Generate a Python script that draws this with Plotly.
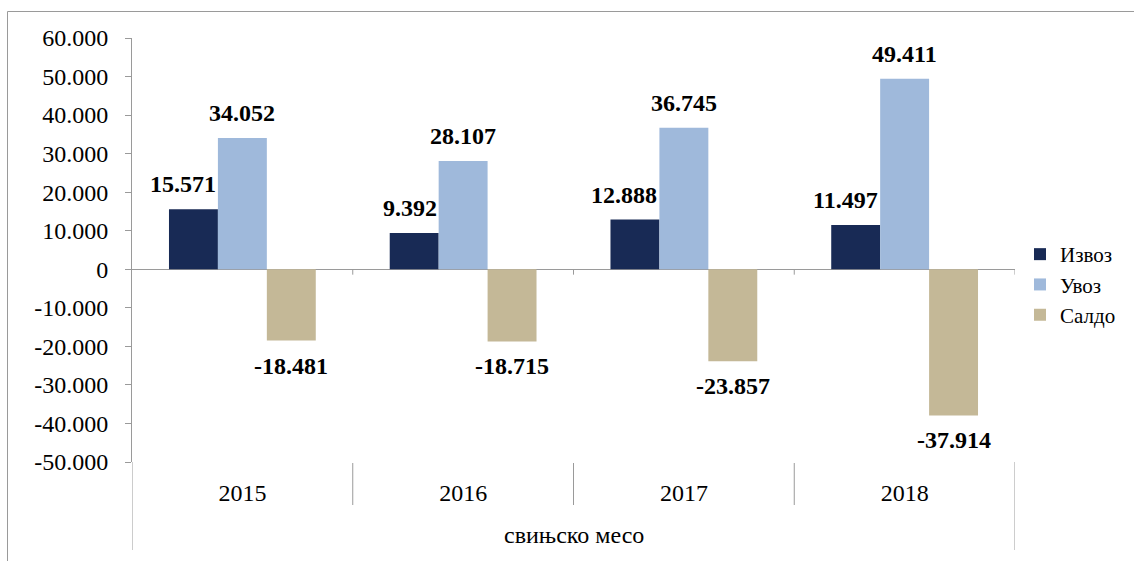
import plotly.graph_objects as go

years = ["2015", "2016", "2017", "2018"]
izvoz = [15571, 9392, 12888, 11497]
uvoz = [34052, 28107, 36745, 49411]
saldo = [-18481, -18715, -23857, -37914]
series_names = ["Извоз", "Увоз", "Салдо"]
group_label = "свињско месо"
y_tickvals = [60000, 50000, 40000, 30000, 20000, 10000, 0, -10000, -20000, -30000, -40000, -50000]
y_ticktext = ["60.000", "50.000", "40.000", "30.000", "20.000", "10.000", "0",
              "-10.000", "-20.000", "-30.000", "-40.000", "-50.000"]

colors = ["#182a55", "#9fb9db", "#c4b897"]
GRAY = "#9a9a9a"
FONT = "Liberation Serif"

W, H = 1134, 561
L, R, T, B = 132, 1134 - 1015, 38, 561 - 462
plot_w = W - L - R
plot_h = H - T - B

def px_x(p):
    return (p - L) / plot_w

def px_y(p):
    return (H - B - p) / plot_h

def fmt(v):
    s = f"{abs(v):,}".replace(",", ".")
    return ("-" if v < 0 else "") + s

bargap = 0.335
bw = (1 - bargap) / 3

fig = go.Figure()
for name, vals, c in zip(series_names, [izvoz, uvoz, saldo], colors):
    fig.add_trace(go.Bar(x=years, y=vals, name=name, marker=dict(color=c, line=dict(width=0))))

annotations = []
offsets = [-bw, 0, bw]
for k, vals in enumerate([izvoz, uvoz, saldo]):
    for i, v in enumerate(vals):
        xc = i + offsets[k]
        if k == 0:
            xa, xpos = "right", xc + bw / 2
        else:
            xa, xpos = "center", xc
        annotations.append(dict(
            x=xpos, y=v, xref="x", yref="y", text=f"<b>{fmt(v)}</b>", showarrow=False,
            xanchor=xa, yanchor="bottom" if v >= 0 else "top",
            yshift=10 if v >= 0 else -10,
            font=dict(family=FONT, size=24, color="black"),
        ))

annotations.append(dict(
    x=0.5, y=px_y(535), xref="paper", yref="paper", text=group_label, showarrow=False,
    xanchor="center", yanchor="middle", font=dict(family=FONT, size=24, color="black"),
))

shapes = []
shapes.append(dict(type="rect", xref="paper", yref="paper",
                   x0=px_x(7.5), x1=px_x(1200), y0=px_y(620), y1=px_y(11.5),
                   line=dict(color=GRAY, width=1), layer="below"))
for b in [0.5, 1.5, 2.5]:
    shapes.append(dict(type="line", xref="x", yref="paper", x0=b, x1=b,
                       y0=px_y(463), y1=px_y(505), line=dict(color=GRAY, width=1)))
for b in [-0.5, 3.5]:
    shapes.append(dict(type="line", xref="x", yref="paper", x0=b, x1=b,
                       y0=px_y(462), y1=px_y(550), line=dict(color=GRAY, width=1)))
for b in [0.5, 1.5, 2.5, 3.5]:
    shapes.append(dict(type="line", xref="x", yref="y", x0=b, x1=b,
                       y0=0, y1=-1400, line=dict(color=GRAY, width=1)))

fig.update_layout(
    width=W, height=H,
    margin=dict(l=L, r=R, t=T, b=B, pad=0),
    paper_bgcolor="white", plot_bgcolor="white",
    barmode="group", bargap=bargap, bargroupgap=0,
    font=dict(family=FONT, size=24, color="black"),
    showlegend=True,
    legend=dict(x=px_x(1020), y=px_y(234), xanchor="left", yanchor="top",
                font=dict(family=FONT, size=21, color="black"),
                bgcolor="rgba(0,0,0,0)", borderwidth=0, traceorder="normal"),
    annotations=annotations,
    shapes=shapes,
)
fig.update_xaxes(
    type="category", range=[-0.5, 3.5], showgrid=False, showline=False, zeroline=False,
    ticks="", ticklabelstandoff=14, tickfont=dict(family=FONT, size=24, color="black"),
)
fig.update_yaxes(
    range=[-50000, 60000], tickvals=y_tickvals, ticktext=y_ticktext,
    showgrid=False, showline=True, linecolor=GRAY, linewidth=1,
    ticks="outside", ticklen=6, tickcolor=GRAY,
    zeroline=True, zerolinecolor=GRAY, zerolinewidth=1,
    ticklabelstandoff=12, tickfont=dict(family=FONT, size=24, color="black"),
)

fig.write_html("out.html")
